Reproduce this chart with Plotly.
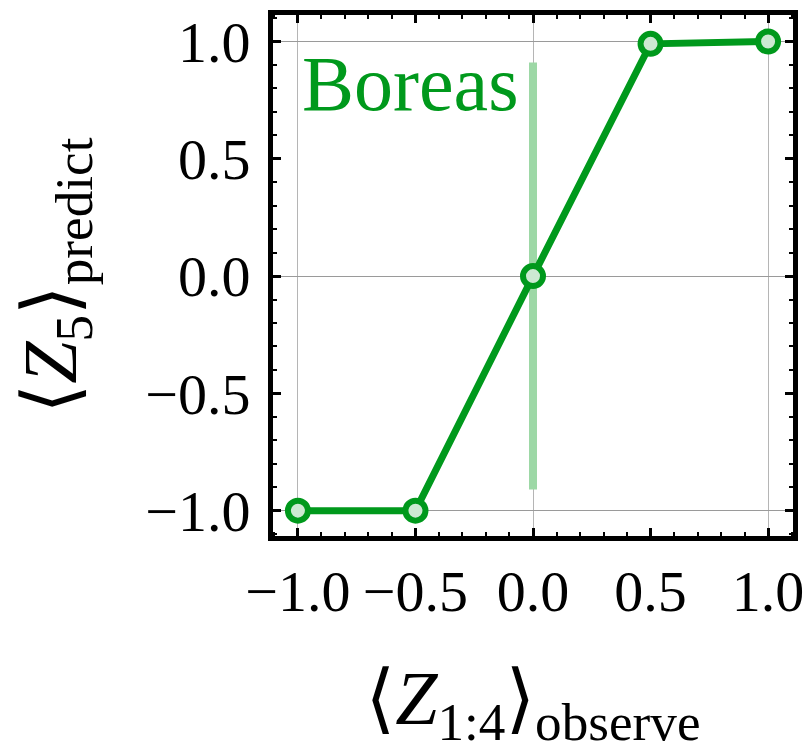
import plotly.graph_objects as go

# Data
observe_x = [-1.0, -0.5, 0.0, 0.5, 1.0]
predict_y = [-1.0, -1.0, 0.0, 0.99, 1.0]
boreas_x = [0.0, 0.0]
boreas_y = [-0.91, 0.91]
tick_vals = [-1.0, -0.5, 0.0, 0.5, 1.0]
tick_text = ["\u22121.0", "\u22120.5", "0.0", "0.5", "1.0"]
grid_vals = [-1.0, 0.0, 1.0]
label_text = "Boreas"

GREEN = "#00991c"
LIGHT = "#9dd8a6"
FILL = "#cde9d2"
FONT = "Liberation Serif, DejaVu Serif, serif"

fig = go.Figure()

# invisible trace to activate the grid overlay axes
fig.add_trace(go.Scatter(x=grid_vals, y=grid_vals, xaxis="x2", yaxis="y2",
                         mode="markers", marker=dict(opacity=0), hoverinfo="skip",
                         showlegend=False))

fig.add_trace(go.Scatter(x=boreas_x, y=boreas_y, mode="lines",
                         line=dict(color=LIGHT, width=8), showlegend=False))

fig.add_trace(go.Scatter(x=observe_x, y=predict_y, mode="lines+markers",
                         line=dict(color=GREEN, width=7),
                         marker=dict(size=20, color=FILL,
                                     line=dict(color=GREEN, width=6)),
                         showlegend=False, cliponaxis=False))

rng = [-1.106, 1.106]
yrng = [-1.108, 1.113]

axis_common = dict(
    showline=True, linecolor="black", linewidth=5, mirror="allticks",
    ticks="inside", ticklen=8, tickwidth=3, tickcolor="black",
    showgrid=False, zeroline=False,
    minor=dict(dtick=0.1, ticks="inside", ticklen=4, tickwidth=2,
               tickcolor="black", showgrid=False),
    tickfont=dict(family=FONT, size=58, color="black"),
    tickmode="array", tickvals=tick_vals, ticktext=tick_text,
)

fig.update_layout(
    width=811, height=754,
    margin=dict(l=265, r=26, t=2, b=226),
    paper_bgcolor="white", plot_bgcolor="white",
    xaxis=dict(range=rng, **axis_common, ticklabelstandoff=0,
               title=dict(text="\u27e8<i>Z</i><sub>1:4</sub>\u27e9<sub>observe</sub>",
                          font=dict(family=FONT, size=76, color="black"),
                          standoff=50)),
    yaxis=dict(range=yrng, **axis_common, ticklabelstandoff=6,
               title=dict(text="\u27e8<i>Z</i><sub>5</sub>\u27e9<sub>predict</sub>",
                          font=dict(family=FONT, size=76, color="black"),
                          standoff=58)),
    xaxis2=dict(range=rng, overlaying="x", showgrid=True, gridcolor="#b5b5b5",
                gridwidth=1, tickmode="array", tickvals=grid_vals,
                showticklabels=False, ticks="", zeroline=False, showline=False),
    yaxis2=dict(range=yrng, overlaying="y", showgrid=True, gridcolor="#9a9a9a",
                gridwidth=1, tickmode="array", tickvals=grid_vals,
                showticklabels=False, ticks="", zeroline=False, showline=False),
    annotations=[dict(x=-0.99, y=0.82, xref="x", yref="y", text=label_text,
                      showarrow=False, xanchor="left", yanchor="middle",
                      font=dict(family=FONT, size=78, color=GREEN))],
)

fig.write_html("out.html")
